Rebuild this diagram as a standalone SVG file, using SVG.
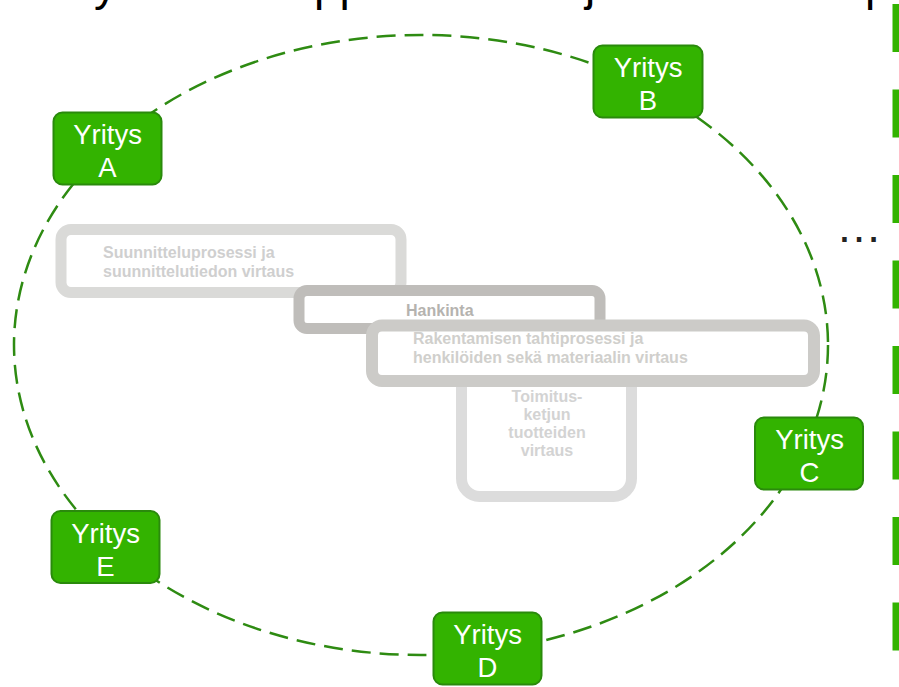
<svg xmlns="http://www.w3.org/2000/svg" width="899" height="687" viewBox="0 0 899 687">
<style>
.node rect{fill:#33b300;stroke:#2a8a0c;stroke-width:2}
.node text{fill:#fff;font-family:"Liberation Sans",Arial,sans-serif;font-size:27.5px;text-anchor:middle}
.proc rect{fill:#fff}
.proc text{font-family:"Liberation Sans",Arial,sans-serif;font-weight:bold;font-size:16px}
.top{fill:#000;font-family:"Liberation Sans",Arial,sans-serif;font-size:46px}
</style>
<rect width="899" height="687" fill="#fff"/>
<g id="title-fragments">
<text class="top" x="94" y="0">y</text>
<text class="top" x="314" y="0">pp</text>
<text class="top" x="585" y="0">j</text>
<text class="top" x="865" y="0">p</text>
</g>
<g id="connectors">
<ellipse cx="421" cy="345" rx="407" ry="310" fill="none" stroke="#2e8b12" stroke-width="2.5" stroke-dasharray="19 9"/>
<line x1="896" y1="4" x2="896" y2="687" stroke="#33b300" stroke-width="7" stroke-dasharray="48 37.5"/>
</g>
<g id="suunnittelu" class="proc">
<rect x="61" y="229.5" width="340" height="63" rx="10" stroke="#dadad8" stroke-width="11"/>
<text x="103" y="258" fill="#cfcfcf">Suunnitteluprosessi ja</text>
<text x="103" y="277" fill="#cfcfcf">suunnittelutiedon virtaus</text>
</g>
<g id="hankinta" class="proc">
<rect x="299" y="290.5" width="301" height="38" rx="8" stroke="#bfbdba" stroke-width="11"/>
<text x="406" y="316" fill="#b5b3af">Hankinta</text>
</g>
<g id="toimitus" class="proc">
<rect x="461.5" y="330" width="170" height="166.5" rx="18" stroke="#dcdcdc" stroke-width="11"/>
<g text-anchor="middle" fill="#d3d3d3" style="font-size:15.5px">
<text x="547" y="402">Toimitus-</text>
<text x="547" y="420">ketjun</text>
<text x="547" y="438">tuotteiden</text>
<text x="547" y="456">virtaus</text>
</g>
</g>
<g id="rakentaminen" class="proc">
<rect x="372" y="325.5" width="442" height="55.5" rx="10" stroke="#cccbc8" stroke-width="12"/>
<text x="413" y="344" fill="#d0cfcc">Rakentamisen tahtiprosessi ja</text>
<text x="413" y="363" fill="#d0cfcc">henkilöiden sekä materiaalin virtaus</text>
</g>
<g id="yritys-a" class="node">
<rect x="53.5" y="112.5" width="108" height="72" rx="9"/>
<text x="107.5" y="144">Yritys</text>
<text x="107.5" y="177">A</text>
</g>
<g id="yritys-b" class="node">
<rect x="593.5" y="45.5" width="109" height="72" rx="9"/>
<text x="648" y="77">Yritys</text>
<text x="648" y="110">B</text>
</g>
<g id="yritys-c" class="node">
<rect x="755" y="417.5" width="108" height="72" rx="9"/>
<text x="809.5" y="449">Yritys</text>
<text x="809.5" y="482">C</text>
</g>
<g id="yritys-d" class="node">
<rect x="433.5" y="612.5" width="108" height="72" rx="9"/>
<text x="487.5" y="644">Yritys</text>
<text x="487.5" y="677">D</text>
</g>
<g id="yritys-e" class="node">
<rect x="51.5" y="511" width="108" height="72" rx="9"/>
<text x="105.5" y="543">Yritys</text>
<text x="105.5" y="576">E</text>
</g>
<g id="more">
<text x="836" y="242" fill="#222" style="font-family:'Liberation Sans',Arial,sans-serif;font-size:46px">…</text>
</g>
</svg>
